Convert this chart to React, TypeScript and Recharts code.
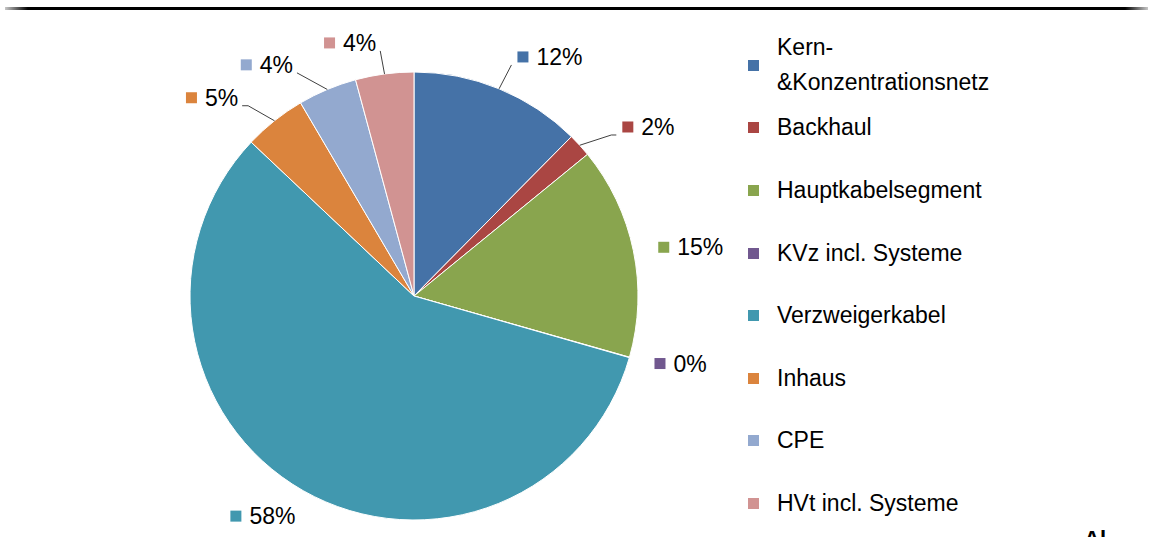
import React from "react";
import { PieChart, Pie, Cell, Legend } from "recharts";

const categories = [
  "Kern-&Konzentrationsnetz",
  "Backhaul",
  "Hauptkabelsegment",
  "KVz incl. Systeme",
  "Verzweigerkabel",
  "Inhaus",
  "CPE",
  "HVt incl. Systeme",
];
const shares = [12.4, 1.7, 15.3, 0.03, 57.6, 4.5, 4.25, 4.2];
const colors = ["#4572A7", "#AA4643", "#89A54E", "#71588F", "#4198AF", "#DB843D", "#93A9CF", "#D19392"];
// label placement nudges (degrees clockwise) and radial distance from centre
const labelNudge = [7.3, 6.5, 1.7, -1.7, 4.8, -7, -9.7, -6.6];
const labelDist = [275, 289, 281, 275, 267, 283, 274, 261];

const data = categories.map((name, i) => ({ name, value: shares[i] }));
const total = shares.reduce((a, b) => a + b, 0);
const FONT = "'Liberation Sans', Arial, sans-serif";
const RAD = Math.PI / 180;

const renderLabel = (props: any) => {
  const { cx, cy, midAngle, outerRadius, index, value } = props;
  const nudge = labelNudge[index];
  const a = (midAngle - nudge) * RAD;
  const d = labelDist[index];
  const lx = cx + d * Math.cos(a);
  const ly = cy - d * Math.sin(a);
  const txt = `${Math.round((value / total) * 100)}%`;
  const tw = txt.length === 2 ? 12.8 + 20.4 : 25.6 + 20.4;
  const boxW = 11 + 8 + tw;
  const left = lx - boxW / 2;
  const right = lx + boxW / 2;
  const ma = midAngle * RAD;
  const ex = cx + outerRadius * Math.cos(ma);
  const ey = cy - outerRadius * Math.sin(ma);
  const rightSide = Math.cos(ma) >= 0;
  let leader = null;
  if (Math.abs(nudge) > 6) {
    const endX = rightSide ? left - 6 : right + 4;
    const endY = ly + 8;
    const hx = rightSide ? endX - 5 : endX + 6;
    const steep = Math.abs(Math.sin(ma)) > 0.9;
    leader = steep ? (
      <polyline points={`${ex},${ey} ${endX},${endY}`} fill="none" stroke="#404040" strokeWidth={1} />
    ) : (
      <polyline points={`${ex},${ey} ${hx},${endY} ${endX},${endY}`} fill="none" stroke="#404040" strokeWidth={1} />
    );
  }
  return (
    <g key={`lbl-${index}`}>
      {leader}
      <rect x={left} y={ly - 5.5} width={11} height={11} fill={colors[index]} />
      <text x={left + 19} y={ly} dominantBaseline="central" fontFamily={FONT} fontSize={23} fill="#000">
        {txt}
      </text>
    </g>
  );
};

const LegendContent = () => (
  <div style={{ fontFamily: FONT, fontSize: 23, color: "#000" }}>
    {categories.map((c, i) => (
      <div key={c} style={{ display: "flex", alignItems: "center", height: 62.6 }}>
        <div style={{ width: 11, height: 11, background: colors[i], marginRight: 18, flex: "none" }} />
        <div style={{ lineHeight: "35px" }}>
          {i === 0 ? (
            <>
              Kern-
              <br />
              &amp;Konzentrationsnetz
            </>
          ) : (
            c
          )}
        </div>
      </div>
    ))}
  </div>
);

export default function App() {
  return (
    <div style={{ position: "absolute", left: 0, top: 0, width: 1151, height: 537, overflow: "hidden", background: "#fff" }}>
      <div
        style={{
          position: "absolute",
          left: 5,
          top: 7,
          width: 1143,
          height: 3,
          background: "linear-gradient(to right, #c8c8c8 0%, #000 2%, #000 98%, #c8c8c8 100%)",
        }}
      />
      <div style={{ position: "absolute", left: 0, top: 0 }}>
        <PieChart width={1151} height={537} margin={{ top: 0, right: 0, bottom: 0, left: 0 }}>
          <Pie
            data={data}
            dataKey="value"
            nameKey="name"
            cx={414}
            cy={296}
            outerRadius={224}
            startAngle={90}
            endAngle={-270}
            stroke="#ffffff"
            strokeWidth={1}
            isAnimationActive={false}
            label={renderLabel}
            labelLine={false}
          >
            {data.map((d, i) => (
              <Cell key={d.name} fill={colors[i]} />
            ))}
          </Pie>
          <Legend
            content={<LegendContent />}
            wrapperStyle={{ position: "absolute", left: 748, top: 34, width: 300 }}
          />
        </PieChart>
      </div>
      <div
        style={{
          position: "absolute",
          left: 1084,
          top: 528,
          fontFamily: FONT,
          fontWeight: "bold",
          fontSize: 22,
          lineHeight: "22px",
          color: "#000",
        }}
      >
        Al
      </div>
    </div>
  );
}
